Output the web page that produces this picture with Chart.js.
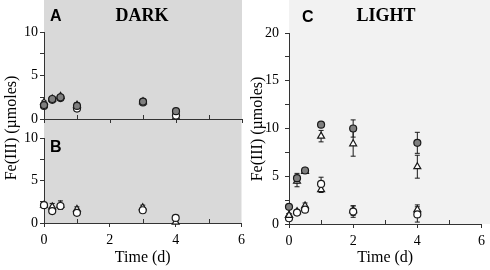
<!DOCTYPE html>
<html>
<head>
<meta charset="utf-8">
<script src="https://cdn.jsdelivr.net/npm/chart.js@4.4.0/dist/chart.umd.min.js"></script>
<style>
  body { margin: 0; background: #fff; width: 490px; height: 270px; position: relative; overflow: hidden; font-family: "Liberation Serif", serif; }
  .box { position: absolute; }
  .ytitle { position: absolute; width: 200px; height: 20px; line-height: 20px; text-align: center; font-size: 16px; color: #000; transform: rotate(-90deg); white-space: nowrap; }
</style>
</head>
<body>
<div class="box" style="left:0;top:119px;width:250px;height:151px"><canvas id="chartB"></canvas></div>
<div class="box" style="left:0;top:0;width:250px;height:131px"><canvas id="chartA"></canvas></div>
<div class="box" style="left:245px;top:0;width:245px;height:270px"><canvas id="chartC"></canvas></div>
<div class="ytitle" style="left:-89px;top:118px">Fe(III) (µmoles)</div>
<div class="ytitle" style="left:157px;top:119px">Fe(III) (µmoles)</div>
<script>
// time points (days)
const darkTimes = [0, 0.25, 0.5, 1, 3, 4]
const lightTimes = [0, 0.25, 0.5, 1, 2, 4]

// panel A - DARK
const aGrayCircle = [1.6, 2.3, 2.5, 1.5, 2.0, 0.9]
const aGrayCircleErr = [0.2, 0.2, 0.2, 0.2, 0.2, 0.2]
const aOpenCircle = [1.5, 2.2, 2.4, 1.2, 1.9, 0.4]
const aOpenCircleErr = [0.2, 0.2, 0.2, 0.3, 0.2, 0.3]
const aTriangle = [1.9, 2.3, 2.6, 1.6, 2.0, 0.2]
const aTriangleErr = [0.2, 0.2, 0.2, 0.3, 0.2, 0.4]

// panel B - DARK
const bOpenCircle = [2.1, 1.4, 2.0, 1.2, 1.5, 0.6]
const bOpenCircleErr = [0.2, 0.3, 0.3, 0.3, 0.2, 0.2]
const bTriangle = [2.1, 1.9, 2.1, 1.6, 1.8, 0.1]
const bTriangleErr = [0.2, 0.4, 0.5, 0.3, 0.3, 0.1]

// panel C - LIGHT
const cGrayCircle = [1.8, 4.8, 5.6, 10.4, 10.0, 8.5]
const cGrayCircleErr = [0.2, 0.5, 0.2, 0.2, 0.9, 1.1]
const cTriangle = [0.9, 4.5, 5.5, 9.2, 8.4, 6.0]
const cTriangleErr = [0.2, 0.6, 0.2, 0.6, 1.3, 1.2]
const cOpenCircle = [0.6, 1.2, 1.5, 4.2, 1.3, 1.0]
const cOpenCircleErr = [0.2, 0.2, 0.3, 0.7, 0.6, 0.8]
const cOpenTriangle = [0.9, 1.3, 1.9, 3.6, 1.4, 1.5]
const cOpenTriangleErr = [0.2, 0.2, 0.3, 0.3, 0.5, 0.5]

const xMax = 6

function pts(times, vals) {
  return times.map((t, i) => ({ x: t, y: vals[i] }))
}

function series(times, vals, err, style) {
  const gray = style.indexOf('gray') >= 0
  const tri = style.indexOf('tri') >= 0
  return {
    data: pts(times, vals),
    err: err,
    pointStyle: tri ? 'triangle' : 'circle',
    pointRadius: tri ? 4 : 3.5,
    pointBackgroundColor: gray ? '#7f7f7f' : '#ffffff',
    pointBorderColor: '#1a1a1a',
    pointBorderWidth: 1.2,
    showLine: false,
    clip: false
  }
}

function makeChart(id, datasets, o) {
  const bgPlugin = {
    id: 'bg' + id,
    beforeDraw(chart) {
      const { ctx, chartArea } = chart
      ctx.save()
      ctx.fillStyle = o.bg
      const right = o.bgToEdge ? chart.width : chartArea.right
      ctx.fillRect(chartArea.left, 0, right - chartArea.left, chartArea.bottom)
      ctx.restore()
    },
    beforeDatasetsDraw(chart) {
      const { ctx, chartArea } = chart
      const xs = chart.scales.x, ys = chart.scales.y
      ctx.save()
      ctx.strokeStyle = '#333'
      ctx.lineWidth = 1
      // minor x ticks point inward
      for (let v = 1; v < xMax; v += 2) {
        const px = Math.round(xs.getPixelForValue(v)) + 0.5
        ctx.beginPath()
        ctx.moveTo(px, chartArea.bottom)
        ctx.lineTo(px, chartArea.bottom - 4)
        ctx.stroke()
      }
      ctx.strokeStyle = '#1a1a1a'
      chart.data.datasets.forEach(ds => {
        ds.data.forEach((p, i) => {
          const e = ds.err[i]
          const px = xs.getPixelForValue(p.x)
          const y1 = ys.getPixelForValue(p.y + e)
          const y2 = ys.getPixelForValue(Math.max(0, p.y - e))
          ctx.beginPath()
          ctx.moveTo(px, y1); ctx.lineTo(px, y2)
          ctx.moveTo(px - 2.5, y1); ctx.lineTo(px + 2.5, y1)
          ctx.moveTo(px - 2.5, y2); ctx.lineTo(px + 2.5, y2)
          ctx.stroke()
        })
      })
      ctx.restore()
    },
    afterDraw(chart) {
      const { ctx } = chart
      ctx.save()
      ctx.fillStyle = '#000'
      ctx.textBaseline = 'middle'
      ctx.textAlign = 'left'
      ctx.font = 'bold 16px "Liberation Sans", Arial, sans-serif'
      ctx.fillText(o.letter, o.letterX, o.letterY)
      if (o.name) {
        ctx.textAlign = 'center'
        ctx.font = 'bold 18px "Liberation Serif", serif'
        ctx.fillText(o.name, o.nameX, o.nameY)
      }
      ctx.restore()
    }
  }

  return new Chart(document.getElementById(id), {
    type: 'scatter',
    data: { datasets: datasets },
    plugins: [bgPlugin],
    options: {
      responsive: true,
      maintainAspectRatio: false,
      animation: false,
      events: [],
      layout: { padding: { top: o.padTop, right: o.padRight, left: 0, bottom: 0 } },
      plugins: { legend: { display: false }, tooltip: { enabled: false } },
      scales: {
        x: {
          type: 'linear', min: 0, max: xMax,
          afterFit: s => { s.height = o.xHeight },
          border: { color: '#333', width: 1 },
          grid: {
            drawOnChartArea: false, color: '#333', tickLength: 4,
            tickColor: c => (c.tick && c.tick.value % 2 !== 0) ? 'rgba(0,0,0,0)' : '#333'
          },
          ticks: {
            stepSize: 1, padding: 5, color: '#000',
            font: { family: '"Liberation Serif", serif', size: 14 },
            callback: v => (o.xLabels && v % 2 === 0) ? v : ''
          },
          title: {
            display: !!o.xLabels, text: 'Time (d)', color: '#000',
            font: { family: '"Liberation Serif", serif', size: 16 },
            padding: { top: 0, bottom: 3 }
          }
        },
        y: {
          type: 'linear', min: 0, max: o.yMax,
          afterFit: s => { s.width = 44 },
          border: { color: '#333', width: 1 },
          grid: { drawOnChartArea: false, color: '#333', tickLength: 4 },
          ticks: {
            stepSize: 2.5, padding: o.yPad, color: '#000',
            font: { family: '"Liberation Serif", serif', size: 14 },
            callback: v => v % 5 === 0 ? v : ''
          }
        }
      }
    }
  })
}

makeChart('chartB', [
  series(darkTimes, bOpenCircle, bOpenCircleErr, 'open'),
  series(darkTimes, bTriangle, bTriangleErr, 'tri')
], { bg: '#d9d9d9', padTop: 19, padRight: 8, xHeight: 47, xLabels: true, yMax: 10, yPad: 2,
     letter: 'B', letterX: 50, letterY: 29 })

makeChart('chartA', [
  series(darkTimes, aGrayCircle, aGrayCircleErr, 'gray'),
  series(darkTimes, aOpenCircle, aOpenCircleErr, 'open'),
  series(darkTimes, aTriangle, aTriangleErr, 'tri')
], { bg: '#d9d9d9', padTop: 32, padRight: 8, xHeight: 12, xLabels: false, yMax: 10, yPad: 2,
     letter: 'A', letterX: 50, letterY: 17, name: 'DARK', nameX: 142, nameY: 16 })

makeChart('chartC', [
  series(lightTimes, cGrayCircle, cGrayCircleErr, 'gray'),
  series(lightTimes, cTriangle, cTriangleErr, 'tri'),
  series(lightTimes, cOpenCircle, cOpenCircleErr, 'open'),
  series(lightTimes, cOpenTriangle, cOpenTriangleErr, 'tri')
], { bg: '#f2f2f2', bgToEdge: true, padTop: 33, padRight: 5, xHeight: 46, xLabels: true, yMax: 20, yPad: 6,
     letter: 'C', letterX: 57, letterY: 18, name: 'LIGHT', nameX: 141, nameY: 16 })
</script>
</body>
</html>
